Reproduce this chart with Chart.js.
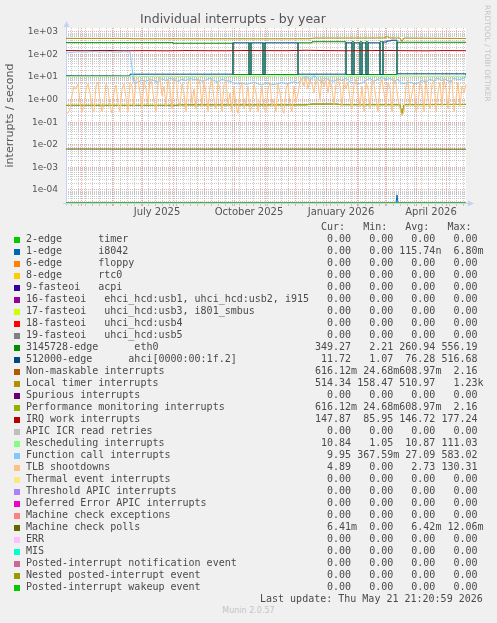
<!DOCTYPE html>
<html>
<head>
<meta charset="utf-8">
<title>Individual interrupts - by year</title>
<script src="https://cdn.jsdelivr.net/npm/chart.js@4.4.0/dist/chart.umd.min.js"></script>
<style>
  html, body { margin: 0; padding: 0; background: #f0f0f0; }
  #wrap { position: relative; width: 497px; height: 623px; overflow: hidden; }
  #graph { position: absolute; left: 0; top: 0; }
  .row { position: absolute; left: 26px; font: 10px 'DejaVu Sans Mono', monospace; line-height: 12px; white-space: pre; color: #4a4a4a; }
  .sw { position: absolute; left: 14px; width: 6px; height: 6px; }
  #stamp { position: absolute; left: 483px; top: 5px; writing-mode: vertical-rl; font: 7.5px 'DejaVu Sans', sans-serif; color: #c4c4c4; white-space: nowrap; }
  #footer { position: absolute; left: 0; top: 606px; width: 497px; text-align: center; font: 8px 'DejaVu Sans', sans-serif; color: #c4c4c4; }
</style>
</head>
<body>
<div id="wrap">
  <canvas id="graph" width="497" height="225"></canvas>
  <div id="stamp">RRDTOOL / TOBI OETIKER</div>
  <div id="legend"></div>
  <div id="footer">Munin 2.0.57</div>
</div>
<script>
// x positions are days since Apr 16 2025 (graph covers 400 days, ends May 21 2026)
const days = [0,4,8,12,16,20,24,28,32,36,40,44,48,52,56,60,64,68,72,76,80,84,88,92,96,100,
  104,108,112,116,120,124,128,132,136,140,144,148,152,156,160,164,168,172,176,180,184,188,192,196,200,
  204,208,212,216,220,224,228,232,236,240,244,248,252,256,260,264,268,272,276,280,284,288,292,296,300,
  304,308,312,316,320,324,328,332,336,340,344,348,352,356,360,364,368,372,376,380,384,388,392,396,400];

const tlbDays = [0,2,4,6,8,10,12,14,16,18,20,22,24,26,28,30,32,34,36,38,40,42,44,46,48,50,52,54,56,58,
  60,62,64,66,68,70,72,74,76,78,80,82,84,86,88,90,92,94,96,98,100,102,104,106,108,110,112,114,116,118,
  120,122,124,126,128,130,132,134,136,138,140,142,144,146,148,150,152,154,156,158,160,162,164,166,168,170,172,174,176,178,
  180,182,184,186,188,190,192,194,196,198,200,202,204,206,208,210,212,214,216,218,220,222,224,226,228,230,232,234,236,238,
  240,242,244,246,248,250,252,254,256,258,260,262,264,266,268,270,272,274,276,278,280,282,284,286,288,290,292,294,296,298,
  300,302,304,306,308,310,312,314,316,318,320,322,324,326,328,330,332,334,336,338,340,342,344,346,348,350,352,354,356,358,
  360,362,364,366,368,370,372,374,376,378,380,382,384,386,388,390,392,394,396,398,400];

const tlbVals = [0.3,0.25,0.4,1.5,4,3,5,0.8,0.3,0.5,
  3,5,2,0.4,0.3,4,6,1,0.3,0.6,
  5,3,0.5,0.25,2,4.5,0.7,0.3,3,5,
  1.2,0.3,6,4,0.5,8,9,2,0.4,7,
  3,0.6,9,5,0.8,0.3,6,10,1.5,4,
  0.5,8,3,0.4,7,9,1,0.5,5,2,
  0.3,6,8,0.7,3,0.4,9,5,0.5,7,
  2,0.3,4,8,1,0.4,6,3,0.3,5,
  7,0.6,2,0.3,4,0.5,0.25,3,6,0.4,
  1,4,0.3,0.5,5,2,0.3,0.8,4,0.4,
  0.3,3,6,0.5,1,0.3,5,2,0.4,0.25,
  3,5,0.6,0.3,4,0.8,2,6,9,4,
  10,3,7,5,2,8,6,1,9,4,
  7,2,8,3,0.6,5,9,4,0.5,7,
  3,6,1,0.4,5,8,2,0.5,4,0.3,
  6,3,0.4,7,5,1,0.3,4,8,2,
  0.5,6,3,0.3,9,5,1,0.4,0.2,0.3,
  4,7,0.6,2,5,0.3,0.5,6,3,0.3,
  8,1,0.4,5,7,0.3,2,6,0.5,9,
  3,0.4,5,7,0.3,1,6,0.5,4,2,
  4.89];

const funcCallVals = [118,122,128,133,130,128,134,136,131,129,133,135,130,128,132,134,131,
  5.5,6,7.5,6.5,8,7,6,8.5,7,9,7.5,6.5,8,7,9,7.5,8,6.5,7.5,9,
  7,6,8,7,6.5,5.5,5,5.5,4.8,5.2,6,5,4.5,5.5,5,4.6,5.2,5.8,5,5.5,
  6.2,5.5,8,11,7,12,8,6,9,7,6.5,8.5,7,9,6,5.5,5,5.5,7,9,
  6.5,8,10,7.5,9,6.5,8,5,5.5,6,5,5.5,7,6,8,6.5,9,7,8,6,9,7.5,8.5,9.95];

const slowDays = [0,20,40,60,80,100,120,140,160,180,200,220,240,260,280,300,320,340,360,380,400];
const irqWorkVals = [150,148,152,147,149,146,150,148,147,151,149,148,155,150,147,149,152,148,146,150,147.87];
const reschedVals = [10.8,11,10.9,11.2,10.8,11,10.7,11.1,10.9,11,10.8,11.3,11,10.9,11.1,10.8,11,11.2,10.9,11,10.84];

// eth0 and ahci trade places: each entry is the level that starts on that day
const eth0Days = [0,107,167,183,185,197,199,232,246,280,286,288,294,296,300,302,314,317,331,400];
const eth0Vals = [337,318,13,330,13,325,13,330,370,13,370,13,370,13,370,13,370,13,350,349.27];

const ahciDays = [0,64,167,183,185,197,199,232,280,286,288,294,296,300,302,314,317,321,325,331,400];
const ahciVals = [11.5,13.5,330,13,330,13,330,13.5,330,13,330,13,330,13,330,13,360,400,430,14,11.72];

const localTimerDays = [0,60,66,120,200,244,248,300,318,321,324,334,336,338,360,400];
const localTimerVals = [520,520,500,500,495,500,540,540,545,620,545,540,380,540,530,514.34];

const pmiDays = [0,110,115,240,246,270,275,334,336,338,400];
const pmiVals = [0.56,0.56,0.59,0.59,0.64,0.64,0.6,0.6,0.22,0.6,0.616];

const mcePollDays = [0,400];
const mcePollVals = [0.0065,0.0064];

const i8042Days = [0,330,331,332,400];
const i8042Vals = [0,0,0.00006,0,0];

const flatDays = [0,400];
const flatVals = [0,0];

const seriesNames = [
  '2-edge      timer',
  '1-edge      i8042',
  '6-edge      floppy',
  '8-edge      rtc0',
  '9-fasteoi   acpi',
  '16-fasteoi   ehci_hcd:usb1, uhci_hcd:usb2, i915',
  '17-fasteoi   uhci_hcd:usb3, i801_smbus',
  '18-fasteoi   uhci_hcd:usb4',
  '19-fasteoi   uhci_hcd:usb5',
  '3145728-edge      eth0',
  '512000-edge      ahci[0000:00:1f.2]',
  'Non-maskable interrupts',
  'Local timer interrupts',
  'Spurious interrupts',
  'Performance monitoring interrupts',
  'IRQ work interrupts',
  'APIC ICR read retries',
  'Rescheduling interrupts',
  'Function call interrupts',
  'TLB shootdowns',
  'Thermal event interrupts',
  'Threshold APIC interrupts',
  'Deferred Error APIC interrupts',
  'Machine check exceptions',
  'Machine check polls',
  'ERR',
  'MIS',
  'Posted-interrupt notification event',
  'Nested posted-interrupt event',
  'Posted-interrupt wakeup event'
];
const seriesColors = ['#00CC00','#0066B3','#FF8000','#FFCC00','#330099','#990099','#CCFF00','#FF0000','#808080',
  '#008F00','#00487D','#B35A00','#B38F00','#6B006B','#8FB300','#B30000','#BEBEBE','#80FF80','#80C9FF',
  '#FFC080','#FFE680','#AA80FF','#EE00CC','#FF8080','#666600','#FFBFFF','#00FFCC','#CC6699','#999900','#00CC00'];

// [x days, y values, stepped] for each series, in legend order
const seriesData = [
  [flatDays, flatVals], [i8042Days, i8042Vals], [flatDays, flatVals], [flatDays, flatVals], [flatDays, flatVals],
  [flatDays, flatVals], [flatDays, flatVals], [flatDays, flatVals], [flatDays, flatVals],
  [eth0Days, eth0Vals, 'before'], [ahciDays, ahciVals, 'before'],
  [pmiDays, pmiVals], [localTimerDays, localTimerVals], [flatDays, flatVals], [pmiDays, pmiVals],
  [slowDays, irqWorkVals], [flatDays, flatVals], [slowDays, reschedVals], [days, funcCallVals], [tlbDays, tlbVals],
  [flatDays, flatVals], [flatDays, flatVals], [flatDays, flatVals], [flatDays, flatVals],
  [mcePollDays, mcePollVals], [flatDays, flatVals], [flatDays, flatVals], [flatDays, flatVals], [flatDays, flatVals], [flatDays, flatVals]
];

const curVals = ['0.00','0.00','0.00','0.00','0.00','0.00','0.00','0.00','0.00','349.27','11.72','616.12m','514.34','0.00','616.12m',
  '147.87','0.00','10.84','9.95','4.89','0.00','0.00','0.00','0.00','6.41m','0.00','0.00','0.00','0.00','0.00'];
const minVals = ['0.00','0.00','0.00','0.00','0.00','0.00','0.00','0.00','0.00','2.21','1.07','24.68m','158.47','0.00','24.68m',
  '85.95','0.00','1.05','367.59m','0.00','0.00','0.00','0.00','0.00','0.00','0.00','0.00','0.00','0.00','0.00'];
const avgVals = ['0.00','115.74n','0.00','0.00','0.00','0.00','0.00','0.00','0.00','260.94','76.28','608.97m','510.97','0.00','608.97m',
  '146.72','0.00','10.87','27.09','2.73','0.00','0.00','0.00','0.00','6.42m','0.00','0.00','0.00','0.00','0.00'];
const maxVals = ['0.00','6.80m','0.00','0.00','0.00','0.00','0.00','0.00','0.00','556.19','516.68','2.16','1.23k','0.00','2.16',
  '177.24','0.00','111.03','583.02','130.31','0.00','0.00','0.00','0.00','12.06m','0.00','0.00','0.00','0.00','0.00'];

// x axis: month starts (major grid), label positions (mid month)
const monthStartDays = [15,46,76,107,138,168,199,229,260,291,319,350,380];
const monthLabelDays = [91,183,275,365];
const monthLabels = ['July 2025','October 2025','January 2026','April 2026'];

// y axis
const Y_MIN = 2.65e-5;
const Y_MAX = 1500;
const yMajor = [1e-4,1e-3,1e-2,1e-1,1,10,100,1000];
const yLabels = ['1e-04','1e-03','1e-02','1e-01','1e+00','1e+01','1e+02','1e+03'];

const MAJOR_GRID = 'rgba(232,110,110,0.6)';
const MINOR_GRID = 'rgba(160,160,160,0.55)';

// weekly minor grid (Mondays)
const weekDays = [];
for (let d = 5; d <= 400; d += 7) {
  if (!monthStartDays.includes(d)) weekDays.push(d);
}
const xTickDays = weekDays.concat(monthStartDays, monthLabelDays).sort((a, b) => a - b);

const yTicks = [];
for (let e = -5; e <= 3; e++) {
  for (let m = 1; m <= 9; m++) {
    const v = m * Math.pow(10, e);
    if (v >= Y_MIN && v <= Y_MAX) yTicks.push(v);
  }
}
function majorIndex(v) {
  return yMajor.findIndex(t => Math.abs(v - t) / t < 1e-6);
}

Chart.defaults.font.family = 'DejaVu Sans';

const datasets = seriesData.map((s, i) => ({
  label: seriesNames[i],
  // zero can't sit on a log axis: rrdtool pins it to the bottom of the graph
  data: s[0].map((d, j) => ({ x: d, y: s[1][j] > 0 ? s[1][j] : Y_MIN })),
  borderColor: seriesColors[i],
  backgroundColor: seriesColors[i],
  borderWidth: 1,
  pointRadius: 0,
  fill: false,
  tension: 0,
  stepped: s[2] || false,
  order: 100 - i
}));

const framePlugin = {
  id: 'frame',
  beforeDraw(chart) {
    const { ctx, chartArea: a } = chart;
    ctx.save();
    ctx.fillStyle = '#ffffff';
    ctx.fillRect(a.left, a.top, a.right - a.left, a.bottom - a.top);
    ctx.restore();
  },
  beforeDatasetsDraw(chart) {
    const { ctx, chartArea: a } = chart;
    ctx.save();
    ctx.strokeStyle = '#c6d2f4';
    ctx.fillStyle = '#c6d2f4';
    ctx.lineWidth = 1;
    ctx.beginPath();
    ctx.moveTo(a.left + 0.5, a.bottom + 3);
    ctx.lineTo(a.left + 0.5, a.top - 3);
    ctx.moveTo(a.left - 3, a.bottom + 0.5);
    ctx.lineTo(a.right + 3, a.bottom + 0.5);
    ctx.stroke();
    ctx.beginPath();
    ctx.moveTo(a.left + 0.5, a.top - 7);
    ctx.lineTo(a.left - 2.5, a.top - 1);
    ctx.lineTo(a.left + 3.5, a.top - 1);
    ctx.closePath();
    ctx.fill();
    ctx.beginPath();
    ctx.moveTo(a.right + 8, a.bottom + 0.5);
    ctx.lineTo(a.right + 2, a.bottom - 2.5);
    ctx.lineTo(a.right + 2, a.bottom + 3.5);
    ctx.closePath();
    ctx.fill();
    ctx.restore();
  }
};

new Chart(document.getElementById('graph').getContext('2d'), {
  type: 'line',
  data: { datasets: datasets },
  options: {
    responsive: false,
    animation: false,
    layout: { padding: { left: 0, right: 31, top: 0, bottom: 0 } },
    plugins: {
      legend: { display: false },
      tooltip: { enabled: false },
      title: {
        display: true,
        text: 'Individual interrupts - by year',
        color: '#555555',
        font: { size: 12.5, weight: 'normal' },
        padding: { top: 12, bottom: 1 }
      }
    },
    scales: {
      x: {
        type: 'linear',
        min: 0,
        max: 400,
        afterFit(s) { s.height = 22; },
        afterBuildTicks(s) { s.ticks = xTickDays.map(v => ({ value: v })); },
        grid: {
          tickLength: 3,
          color(ctx) {
            const v = ctx.tick ? ctx.tick.value : -1;
            if (monthLabelDays.includes(v)) return 'rgba(0,0,0,0)';
            return monthStartDays.includes(v) ? MAJOR_GRID : MINOR_GRID;
          }
        },
        border: { display: false, dash: [1, 1] },
        ticks: {
          autoSkip: false,
          maxRotation: 0,
          padding: 0,
          color: '#555555',
          font: { size: 10 },
          callback(v) {
            const k = monthLabelDays.indexOf(v);
            return k >= 0 ? monthLabels[k] : '';
          }
        }
      },
      y: {
        type: 'logarithmic',
        min: Y_MIN,
        max: Y_MAX,
        afterFit(s) { s.width = 66; },
        afterBuildTicks(s) { s.ticks = yTicks.map(v => ({ value: v })); },
        grid: {
          drawTicks: false,
          color(ctx) {
            if (!ctx.tick) return MINOR_GRID;
            return majorIndex(ctx.tick.value) >= 0 ? MAJOR_GRID : MINOR_GRID;
          }
        },
        border: { display: false, dash: [1, 1] },
        ticks: {
          autoSkip: false,
          padding: 8,
          color: '#555555',
          font: { size: 9 },
          callback(v) {
            const k = majorIndex(v);
            return k >= 0 ? yLabels[k] : '';
          }
        },
        title: {
          display: true,
          text: 'interrupts / second',
          color: '#555555',
          font: { size: 11 },
          padding: { top: 4, bottom: 0 }
        }
      }
    }
  },
  plugins: [framePlugin]
});

// legend table below the graph
const legendBox = document.getElementById('legend');
function field(s) {
  return /[a-z]$/i.test(s) ? s.padStart(7) : s.padStart(6) + ' ';
}
const head = document.createElement('div');
head.className = 'row';
head.style.top = '221px';
head.textContent = ' '.repeat(49) + 'Cur:   Min:   Avg:   Max:';
legendBox.appendChild(head);

seriesNames.forEach((name, i) => {
  const top = 233 + i * 12;
  const sw = document.createElement('div');
  sw.className = 'sw';
  sw.style.top = (top + 4) + 'px';
  sw.style.background = seriesColors[i];
  legendBox.appendChild(sw);
  const row = document.createElement('div');
  row.className = 'row';
  row.style.top = top + 'px';
  row.textContent = name.padEnd(48) + field(curVals[i]) + field(minVals[i]) + field(avgVals[i]) + field(maxVals[i]);
  legendBox.appendChild(row);
});

const upd = document.createElement('div');
upd.className = 'row';
upd.style.top = '593px';
upd.style.left = '260px';
upd.textContent = 'Last update: Thu May 21 21:20:59 2026';
legendBox.appendChild(upd);
</script>
</body>
</html>
